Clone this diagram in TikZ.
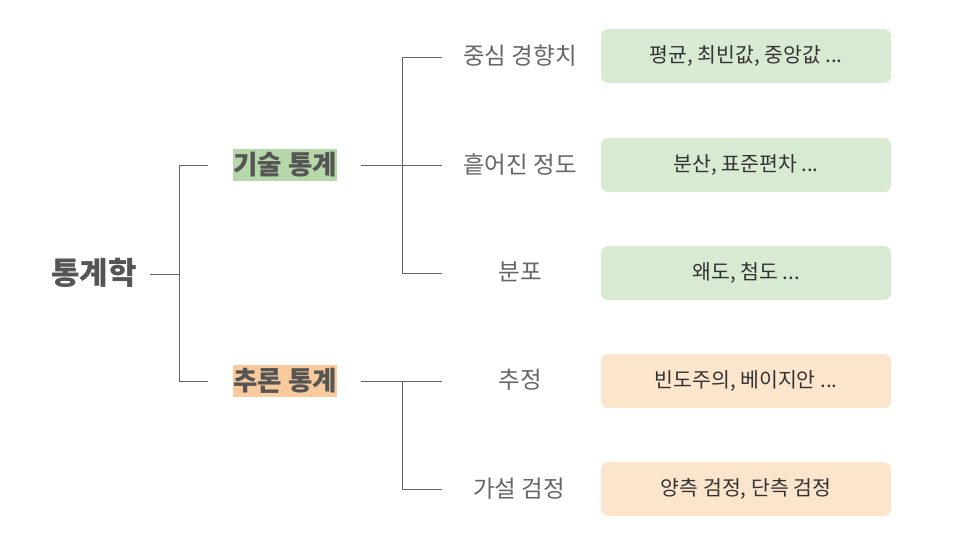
\documentclass[tikz,border=0pt]{standalone}
\usepackage{fontspec}
\setmainfont{Noto Sans CJK KR}
\definecolor{linec}{HTML}{666666}
\definecolor{maintxt}{HTML}{555555}
\definecolor{labtxt}{HTML}{666666}
\definecolor{boxtxt}{HTML}{333333}
\definecolor{hlgreen}{HTML}{B6D7A8}
\definecolor{hlorange}{HTML}{F9CB9C}
\definecolor{bgreen}{HTML}{D9EAD3}
\definecolor{borange}{HTML}{FCE5CD}
\tikzset{
  conn/.style={draw=linec, line width=1pt},
  rootnode/.style={font=\fontsize{31}{34}\selectfont\bfseries, text=maintxt, inner sep=0pt},
  hlnode/.style={font=\fontsize{26.5}{30}\selectfont\bfseries, text=maintxt, inner xsep=0.5pt, inner ysep=1pt, minimum height=32pt},
  labnode/.style={font=\fontsize{23.5}{26}\selectfont, text=labtxt, inner sep=0pt},
  infobox/.style={rounded corners=7pt, minimum width=290pt, minimum height=54pt, font=\fontsize{20.5}{24}\selectfont, text=boxtxt, inner sep=0pt},
}
\begin{document}
\begin{tikzpicture}[x=1pt,y=-1pt]
\useasboundingbox (0,0) rectangle (968,554);
\node[rootnode] (root) at (94,273) {통계학};
\node[hlnode, fill=hlgreen] (desc) at (285,165) {기술 통계};
\node[hlnode, fill=hlorange] (infer) at (285,381) {추론 통계};
\coordinate (r1) at (150,274);
\coordinate (r2) at (179,274);
\coordinate (d0) at (208,165);
\coordinate (i0) at (208,381);
\draw[conn] (r1) -- (r2);
\draw[conn] (d0) -| (179,381) -- (i0);

\node[labnode] (l1) at (520,56) {중심 경향치};
\node[labnode] (l2) at (520,165) {흩어진 정도};
\node[labnode] (l3) at (520,272) {분포};
\node[labnode] (l4) at (520,380) {추정};
\node[labnode] (l5) at (519,489) {가설 검정};

\coordinate (ds) at (361,165);
\coordinate (de1) at (442,57);
\coordinate (de2) at (442,165);
\coordinate (de3) at (442,273);
\draw[conn] (ds) -- (de2);
\draw[conn] (de1) -- (402,57) -- (402,273) -- (de3);

\coordinate (is) at (361,381);
\coordinate (ie1) at (442,381);
\coordinate (ie2) at (442,489);
\draw[conn] (is) -- (ie1);
\draw[conn] (402,381) -- (402,489) -- (ie2);

\node[infobox, fill=bgreen] (b1) at (746,56) {평균, 최빈값, 중앙값 ...};
\node[infobox, fill=bgreen] (b2) at (746,165) {분산, 표준편차 ...};
\node[infobox, fill=bgreen] (b3) at (746,273) {왜도, 첨도 ...};
\node[infobox, fill=borange] (b4) at (746,381) {빈도주의, 베이지안 ...};
\node[infobox, fill=borange] (b5) at (746,489) {양측 검정, 단측 검정};
\end{tikzpicture}
\end{document}
